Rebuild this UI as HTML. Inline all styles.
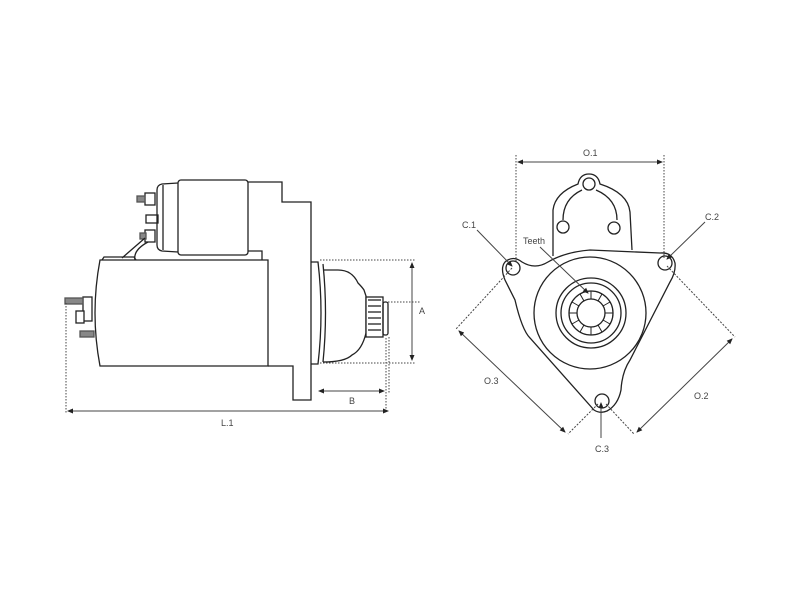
<!DOCTYPE html>
<html><head><style>
body{margin:0;background:#fff;}
svg{display:block}
text{font-family:"Liberation Sans",sans-serif;font-size:9px;fill:#444;}
</style></head><body>
<svg width="800" height="600" viewBox="0 0 800 600" xmlns="http://www.w3.org/2000/svg">
<defs>
<marker id="a" markerWidth="6" markerHeight="6" refX="5" refY="3" orient="auto-start-reverse"><path d="M0,0.5 L6,3 L0,5.5z" fill="#222"/></marker>
</defs>
<g fill="none" stroke="#222" stroke-width="1.3">
<path d="M178,183 L162,184 Q157,185 157,190 L157,245 Q157,250 162,251 L178,252"/>
<line x1="163" y1="185" x2="163" y2="250"/>
<rect x="178" y="180" width="70" height="75" rx="3"/>
<rect x="145" y="193" width="10" height="12" fill="#fff"/>
<rect x="137" y="196" width="8" height="6" fill="#888" stroke="#555"/>
<rect x="146" y="215" width="12" height="8"/>
<rect x="145" y="230" width="10" height="12" fill="#fff"/>
<rect x="140" y="233" width="6" height="6" fill="#888" stroke="#555"/>
<path d="M145,238 L122,258 M148,242 Q133,250 135,260"/>
<path d="M248,182 L282,182 L282,202 L311,202 L311,400 L293,400 L293,366 L268,366"/>
<path d="M248,251 L262,251 L262,260"/>
<path d="M100,260 L268,260 L268,366 L100,366 Q90,313 100,260z"/>
<path d="M102,260 L104,257 L134,257 L136,260"/>
<rect x="83" y="297" width="9" height="24" fill="#fff"/>
<rect x="65" y="298" width="18" height="6" fill="#888" stroke="#555"/>
<rect x="76" y="311" width="8" height="12" fill="#fff"/>
<rect x="80" y="331" width="14" height="6" fill="#888" stroke="#555"/>
<path d="M311,262 L318,262 Q324,313 318,364 L311,364"/>
<path d="M323,264 Q328,313 323,362"/>
<path d="M323,270 L338,270 Q352,270 358,283 Q362,287 364,290 L366,296 L366,333 Q362,350 352,355 Q345,362 323,362"/>
<rect x="366" y="297" width="17" height="40" fill="#fff"/>
<line x1="368" y1="300" x2="381" y2="300"/><line x1="368" y1="306" x2="381" y2="306"/><line x1="368" y1="312" x2="381" y2="312"/><line x1="368" y1="318" x2="381" y2="318"/><line x1="368" y1="324" x2="381" y2="324"/><line x1="368" y1="330" x2="381" y2="330"/>
<rect x="383" y="302" width="5" height="33" rx="2"/>

<!-- lug -->
<path d="M553,256 L553,210 Q555,193 578,184 Q580,174 589,174 Q598,174 600,184 Q628,193 630,212 L632,250"/>
<path d="M563,220 Q563,199 582,190 M596,190 Q617,199 617,220"/>
<circle cx="589" cy="184" r="6"/>
<circle cx="563" cy="227" r="6"/>
<circle cx="614" cy="228" r="6"/>
<path d="M505,262 Q513,255 522,262 Q535,270 548,262 Q565,252 590,250 L660,253 Q672,252 675,263 Q676,272 670,282 L630,360 Q622,372 621,390 Q618,405 607,411 Q600,414 594,410 L530,338 Q522,330 515,300 L505,280 Q500,268 505,262z"/>
<circle cx="513" cy="268" r="7"/>
<circle cx="665" cy="263" r="7"/>
<circle cx="602" cy="401" r="7"/>
<circle cx="590" cy="313" r="56"/>
<circle cx="591" cy="313" r="35"/>
<circle cx="591" cy="313" r="30"/>
<circle cx="591" cy="313" r="22"/>
<circle cx="591" cy="313" r="14"/>
<g stroke-width="1">
<path d="M591,291 L591,299 M602,294 L598,301 M610,302 L603,306 M613,313 L605,313 M610,324 L603,320 M602,332 L598,325 M591,335 L591,327 M580,332 L584,325 M572,324 L579,320 M569,313 L577,313 M572,302 L579,306 M580,294 L584,301"/>
</g>
</g>

<g stroke="#444" stroke-width="1" fill="none">
<path d="M320,260 L415,260 M320,363 L415,363 M66,303 L66,413 M386,338 L386,413 M388,302 L420,302 M389,337 L389,393" stroke-dasharray="1.5,1.5"/>
<line x1="412" y1="263" x2="412" y2="360" marker-start="url(#a)" marker-end="url(#a)"/>
<line x1="319" y1="391" x2="384" y2="391" marker-start="url(#a)" marker-end="url(#a)"/>
<line x1="68" y1="411" x2="388" y2="411" marker-start="url(#a)" marker-end="url(#a)"/>
<path d="M516,155 L516,262 M664,155 L664,258" stroke-dasharray="1.5,1.5"/>
<line x1="518" y1="162" x2="662" y2="162" marker-start="url(#a)" marker-end="url(#a)"/>
<path d="M512,268 L456,329 M667,266 L735,337 M598,404 L568,434 M606,404 L634,434" stroke-dasharray="2,1.5"/>
<line x1="459" y1="331" x2="565" y2="432" marker-start="url(#a)" marker-end="url(#a)"/>
<line x1="637" y1="432" x2="732" y2="339" marker-start="url(#a)" marker-end="url(#a)"/>
<line x1="477" y1="230" x2="512" y2="266" marker-end="url(#a)"/>
<line x1="705" y1="222" x2="667" y2="259" marker-end="url(#a)"/>
<line x1="601" y1="438" x2="601" y2="403" marker-end="url(#a)"/>
<line x1="540" y1="247" x2="588" y2="293" marker-end="url(#a)"/>
</g>
<text x="419" y="314">A</text>
<text x="349" y="404">B</text>
<text x="221" y="426">L.1</text>
<text x="583" y="156">O.1</text>
<text x="462" y="228">C.1</text>
<text x="705" y="220">C.2</text>
<text x="595" y="452">C.3</text>
<text x="484" y="384">O.3</text>
<text x="694" y="399">O.2</text>
<text x="523" y="244" font-size="8">Teeth</text>
</svg>
</body></html>
